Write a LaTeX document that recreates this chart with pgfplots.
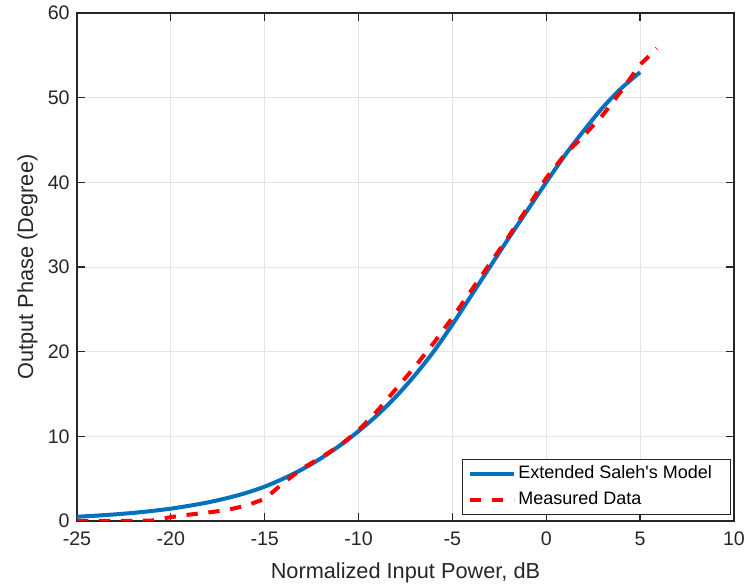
\documentclass[border=0pt]{standalone}
\usepackage{fontspec}
\setmainfont{Liberation Sans}
\usepackage{pgfplots}
\usepackage{pgfplotstable}
\pgfplotsset{compat=1.18}
\definecolor{mblue}{RGB}{0,114,189}
\definecolor{axgray}{RGB}{38,38,38}
\definecolor{gridgray}{RGB}{228,228,228}

\pgfplotstableread{
x y
-25 0.5
-24 0.62
-23 0.77
-22 0.95
-21 1.18
-20 1.45
-19 1.8
-18 2.2
-17 2.7
-16 3.3
-15 4.05
-14 5.0
-13 6.1
-12 7.4
-11 8.9
-10 10.6
-9 12.5
-8 14.7
-7 17.2
-6 20.0
-5 23.2
-4 26.6
-3 30.0
-2 33.4
-1 36.7
0 40.0
1 43.2
2 46.1
3 48.8
4 51.1
5 53.0
}\model

\pgfplotstableread{
x y
-25 0
-24 0
-23 0
-22 0
-21 0.05
-20 0.45
-19 0.75
-18 1.0
-17 1.3
-16 1.8
-15 2.6
-14 4.5
-13 6.2
-12 7.5
-11 8.9
-10 10.7
-9 13.0
-8 15.6
-7 18.2
-6 21.0
-5 24.0
-4 27.2
-3 30.4
-2 33.6
-1 37.0
0 40.5
1 43.3
2 45.5
3 47.9
4 50.8
5 53.9
5.9 55.8
}\measured

\begin{document}
\begin{tikzpicture}
\begin{axis}[
  scale only axis,
  width=492.75pt, height=381pt,
  xmin=-25, xmax=10, ymin=0, ymax=60,
  xtick={-25,-20,...,10}, ytick={0,10,...,60},
  grid=major,
  major grid style={gridgray, line width=0.6pt},
  axis line style={axgray, line width=1pt},
  tick style={axgray, line width=1pt},
  tick align=inside, major tick length=6pt,
  ticklabel style={font=\fontsize{14.7}{17}\selectfont, text=axgray},
  xticklabel style={yshift=-5pt},
  yticklabel style={xshift=-2pt},
  /pgf/number format/assume math mode=true,
  xlabel={Normalized Input Power, dB},
  ylabel={Output Phase (Degree)},
  label style={font=\fontsize{16.3}{19}\selectfont, text=axgray},
  xlabel style={at={(axis description cs:0.5,-0.1142)}, anchor=base},
  ylabel style={at={(axis description cs:-0.0753,0.5)}, anchor=center},
  legend style={at={(0.9954,0.0118)}, anchor=south east, draw=axgray,
    line width=0.6pt, fill=white, font=\fontsize{13.5}{16}\selectfont,
    inner xsep=4pt, inner ysep=4.5pt, row sep=6.3pt,
    nodes={inner xsep=2pt, inner ysep=0pt, text height=10pt, text depth=3pt}},
  legend cell align=left,
  legend image code/.code={\draw[#1] (0pt,0pt) -- (33pt,0pt);},
]
\addplot[mblue, line width=3pt, smooth] table[x=x,y=y] {\model};
\addlegendentry{Extended Saleh\textquotesingle s Model\hspace*{8pt}}
\addplot[red, line width=3pt, dash pattern=on 8.5pt off 8pt] table[x=x,y=y] {\measured};
\addlegendentry{Measured Data}
\coordinate (bl) at (axis cs:-29.10,-7.795);
\coordinate (tr) at (axis cs:10.696,61.53);
\end{axis}
\pgfresetboundingbox
\path[use as bounding box] (bl) rectangle (tr);
\end{tikzpicture}
\end{document}
